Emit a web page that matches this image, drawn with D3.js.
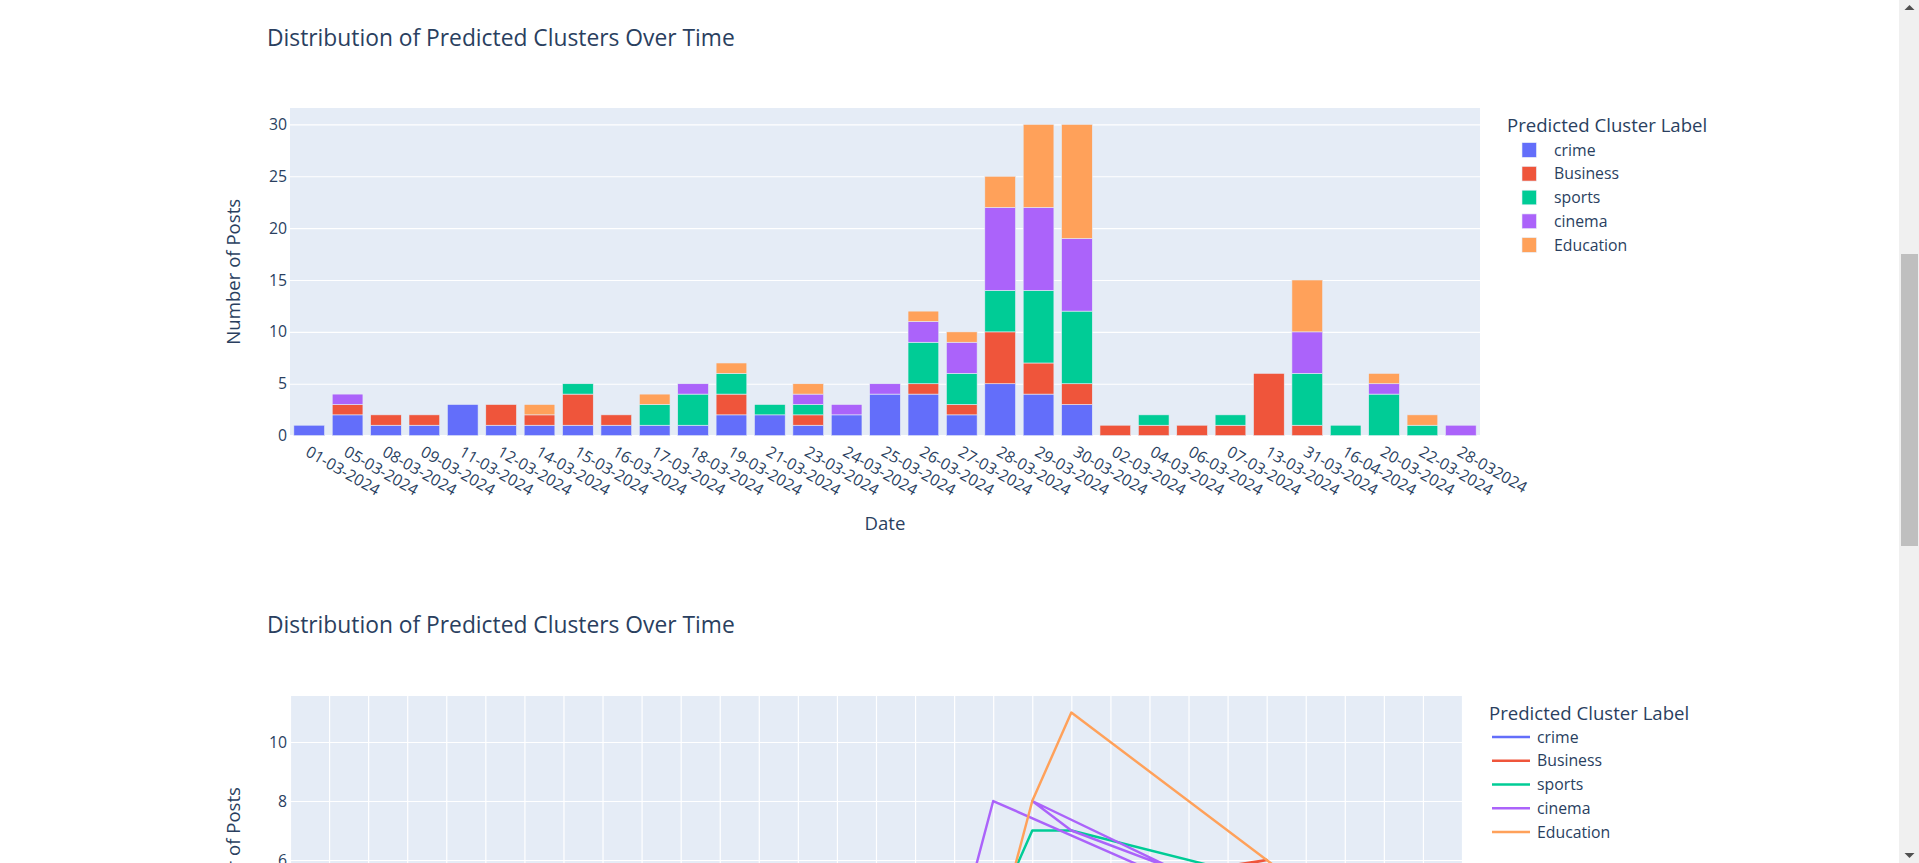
<!DOCTYPE html>
<html>
<head>
<meta charset="utf-8">
<script src="https://cdn.jsdelivr.net/npm/d3@7"></script>
<style>
  html, body { margin: 0; padding: 0; background: #fff; overflow: hidden; }
  svg { display: block; }
  text { font-family: "Open Sans", Verdana, Arial, sans-serif; fill: #2a3f5f; }
</style>
</head>
<body>
<svg id="chart" width="1919" height="863"></svg>
<script>
// ---------------- data ----------------
const dates = ["01-03-2024","05-03-2024","08-03-2024","09-03-2024","11-03-2024","12-03-2024","14-03-2024","15-03-2024","16-03-2024","17-03-2024","18-03-2024","19-03-2024","21-03-2024","23-03-2024","24-03-2024","25-03-2024","26-03-2024","27-03-2024","28-03-2024","29-03-2024","30-03-2024","02-03-2024","04-03-2024","06-03-2024","07-03-2024","13-03-2024","31-03-2024","16-04-2024","20-03-2024","22-03-2024","28-032024"];
const crime     = [1,2,1,1,3,1,1,1,1,1,1,2,2,1,2,4,4,2,5,4,3,0,0,0,0,0,0,0,0,0,0];
const business  = [0,1,1,1,0,2,1,3,1,0,0,2,0,1,0,0,1,1,5,3,2,1,1,1,1,6,1,0,0,0,0];
const sports    = [0,0,0,0,0,0,0,1,0,2,3,2,1,1,0,0,4,3,4,7,7,0,1,0,1,0,5,1,4,1,0];
const cinema    = [0,1,0,0,0,0,0,0,0,0,1,0,0,1,1,1,2,3,8,8,7,0,0,0,0,0,4,0,1,0,1];
const education = [0,0,0,0,0,0,1,0,0,1,0,1,0,1,0,0,1,1,3,8,11,0,0,0,0,0,5,0,1,1,0];
const seriesNames = ["crime","Business","sports","cinema","Education"];
const seriesColors = ["#636efa","#EF553B","#00cc96","#ab63fa","#FFA15A"];
const barTicks = [0,5,10,15,20,25,30];
const lineTicks = [2,4,6,8,10];
const chartTitle = "Distribution of Predicted Clusters Over Time";
const legendTitle = "Predicted Cluster Label";
const xTitle = "Date";
const yTitle = "Number of Posts";

const seriesValues = [crime, business, sports, cinema, education];

// ---------------- setup ----------------
const svg = d3.select("#chart");
const TXT = "#2a3f5f", PLOTBG = "#E5ECF6";
const fsTick = 15.8, fsAxisTitle = 18.6, fsTitle = 22.8;

// ============ Chart 1: stacked bars ============
const c1 = {left: 290, right: 1480, top: 108, bottom: 435.6};
const x1 = d3.scaleBand().domain(dates).range([c1.left, c1.right]).paddingInner(0.2).paddingOuter(0.1);
const y1 = d3.scaleLinear().domain([0, 31.58]).range([c1.bottom, c1.top]);

svg.append("text").attr("x", 267).attr("y", 46).attr("font-size", fsTitle).text(chartTitle);

const g1 = svg.append("g");
g1.append("rect").attr("x", c1.left).attr("y", c1.top).attr("width", c1.right - c1.left).attr("height", c1.bottom - c1.top).attr("fill", PLOTBG);

// y grid & ticks
const yAxis1 = d3.axisLeft(y1).tickValues(barTicks).tickSize(-(c1.right - c1.left)).tickPadding(4);
const ya1 = g1.append("g").attr("transform", `translate(${c1.left},0)`).call(yAxis1);
ya1.select(".domain").remove();
ya1.selectAll(".tick line").attr("stroke", "#fff").attr("stroke-width", 1.2).filter(d => d === 0).attr("stroke-width", 2.4);
ya1.selectAll(".tick text").attr("font-size", fsTick).attr("fill", TXT).attr("font-family", "Open Sans").attr("x", -3);

// stack
const rows = dates.map((d, i) => {
  const r = {date: d};
  seriesNames.forEach((s, k) => r[s] = seriesValues[k][i]);
  return r;
});
const stack = d3.stack().keys(seriesNames)(rows);
stack.forEach((layer, k) => {
  g1.append("g").selectAll("rect").data(layer.filter(p => p[1] - p[0] > 0)).join("rect")
    .attr("x", p => x1(p.data.date))
    .attr("width", x1.bandwidth())
    .attr("y", p => y1(p[1]))
    .attr("height", p => y1(p[0]) - y1(p[1]))
    .attr("fill", seriesColors[k])
    .attr("stroke", PLOTBG).attr("stroke-width", 0.6);
});

// x tick labels (rotated 30deg)
const xAxis1 = d3.axisBottom(x1).tickSize(0).tickPadding(0);
const xa1 = g1.append("g").attr("transform", `translate(0,${c1.bottom})`).call(xAxis1);
xa1.select(".domain").remove();
xa1.selectAll(".tick text")
  .attr("font-size", fsTick).attr("fill", TXT).attr("font-family", "Open Sans")
  .attr("text-anchor", "start")
  .attr("x", 0).attr("y", 0)
  .attr("transform", "translate(-2,14.5) rotate(30)")
  .attr("dy", "0.35em");

// axis titles
g1.append("text").attr("x", (c1.left + c1.right) / 2).attr("y", 523).attr("dy", "0.35em")
  .attr("text-anchor", "middle").attr("font-size", fsAxisTitle).text(xTitle);
g1.append("text").attr("transform", `translate(233,${(c1.top + c1.bottom) / 2}) rotate(-90)`)
  .attr("dy", "0.35em").attr("text-anchor", "middle").attr("font-size", fsAxisTitle).text(yTitle);

// legend 1
const lg1 = svg.append("g").attr("transform", "translate(1507,0)");
lg1.append("text").attr("x", 0).attr("y", 125).attr("dy", "0.35em").attr("font-size", fsAxisTitle).text(legendTitle);
seriesNames.forEach((s, k) => {
  const cy = 150 + k * 23.75;
  lg1.append("rect").attr("x", 15).attr("y", cy - 7.3).attr("width", 14.4).attr("height", 14.6)
    .attr("fill", seriesColors[k]).attr("stroke", PLOTBG).attr("stroke-width", 0.6);
  lg1.append("text").attr("x", 47).attr("y", cy).attr("dy", "0.35em").attr("font-size", fsTick).text(s);
});

// ============ Chart 2: lines ============
const c2 = {left: 290, right: 1462, top: 696, bottom: 1024};
const x2 = d3.scalePoint().domain(dates).range([c2.left, c2.right]);
const y2 = d3.scaleLinear().domain([0.44, 11.56]).range([c2.bottom, c2.top]);

svg.append("text").attr("x", 267).attr("y", 633).attr("font-size", fsTitle).text(chartTitle);

const g2 = svg.append("g");
g2.append("rect").attr("x", c2.left).attr("y", c2.top).attr("width", c2.right - c2.left).attr("height", c2.bottom - c2.top).attr("fill", PLOTBG);

// vertical category grid
const xg2 = g2.append("g").attr("transform", `translate(0,${c2.bottom})`)
  .call(d3.axisBottom(x2).tickSize(-(c2.bottom - c2.top)).tickFormat(""));
xg2.select(".domain").remove();
xg2.selectAll(".tick line").attr("stroke", "#fff").attr("stroke-width", 1.2);

const yAxis2 = d3.axisLeft(y2).tickValues(lineTicks.filter(v => y2(v) < 870)).tickSize(-(c2.right - c2.left)).tickPadding(4);
const ya2 = g2.append("g").attr("transform", `translate(${c2.left},0)`).call(yAxis2);
ya2.select(".domain").remove();
ya2.selectAll(".tick line").attr("stroke", "#fff").attr("stroke-width", 1.2);
ya2.selectAll(".tick text").attr("font-size", fsTick).attr("fill", TXT).attr("font-family", "Open Sans").attr("x", -3);

// lines: each trace connects its non-zero dates in string-sorted order
const clip = svg.append("defs").append("clipPath").attr("id", "clip2");
clip.append("rect").attr("x", c2.left).attr("y", c2.top).attr("width", c2.right - c2.left).attr("height", c2.bottom - c2.top);
seriesValues.forEach((vals, k) => {
  const idx = dates.map((d, i) => i).filter(i => vals[i] > 0)
    .sort((a, b) => dates[a] < dates[b] ? -1 : dates[a] > dates[b] ? 1 : 0);
  const gen = d3.line().x(i => x2(dates[i])).y(i => y2(vals[i]));
  g2.append("path").attr("clip-path", "url(#clip2)").attr("d", gen(idx))
    .attr("fill", "none").attr("stroke", seriesColors[k]).attr("stroke-width", 2.45)
    .attr("stroke-linejoin", "round");
});

g2.append("text").attr("transform", `translate(233,${(c2.top + c2.bottom) / 2}) rotate(-90)`)
  .attr("dy", "0.35em").attr("text-anchor", "middle").attr("font-size", fsAxisTitle).text(yTitle);

// legend 2
const lg2 = svg.append("g").attr("transform", "translate(1489,0)");
lg2.append("text").attr("x", 0).attr("y", 713).attr("dy", "0.35em").attr("font-size", fsAxisTitle).text(legendTitle);
seriesNames.forEach((s, k) => {
  const cy = 737 + k * 23.75;
  lg2.append("line").attr("x1", 3).attr("x2", 41).attr("y1", cy).attr("y2", cy)
    .attr("stroke", seriesColors[k]).attr("stroke-width", 2.45);
  lg2.append("text").attr("x", 48).attr("y", cy).attr("dy", "0.35em").attr("font-size", fsTick).text(s);
});

// ---------------- browser scrollbar look ----------------
const sb = svg.append("g");
sb.append("rect").attr("x", 1899).attr("y", 0).attr("width", 20).attr("height", 863).attr("fill", "#f0f0f0");
sb.append("rect").attr("x", 1901).attr("y", 254).attr("width", 17).attr("height", 292).attr("fill", "#bfbfbf");
sb.append("path").attr("d", "M1904.5,10 L1909.5,5 L1914.5,10 Z").attr("fill", "#505050");
sb.append("path").attr("d", "M1904.5,853 L1909.5,858 L1914.5,853 Z").attr("fill", "#505050");
</script>
</body>
</html>
